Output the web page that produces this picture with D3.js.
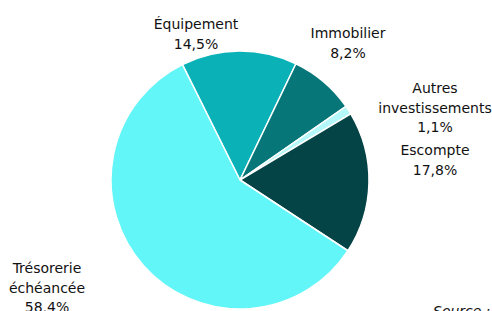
<!DOCTYPE html>
<html><head><meta charset="utf-8">
<script src="https://cdn.jsdelivr.net/npm/d3@7"></script>
<style>body{margin:0;background:#fff;}svg{display:block;}</style>
</head><body>
<svg id="c" width="492" height="311"></svg>
<script>
const categories = ["Équipement", "Immobilier", "Autres investissements", "Escompte", "Trésorerie échéancée"];
const values = [14.5, 8.2, 1.1, 17.8, 58.4];
const valueLabels = ["14,5%", "8,2%", "1,1%", "17,8%", "58,4%"];
const colors = ["#0AB2B8", "#067678", "#B5F8FA", "#054446", "#62F6F9"];
// label lines per category
const labelLines = [["Équipement"], ["Immobilier"], ["Autres", "investissements"], ["Escompte"], ["Trésorerie", "échéancée"]];
const labelPos = [[196, 29], [348, 38], [435, 93], [435, 155], [47, 273]];

const svg = d3.select("#c");
const cx = 240, cy = 180, r = 129;
const g = svg.append("g").attr("transform", `translate(${cx},${cy})`);
const start = -26.5 * Math.PI / 180;
const pie = d3.pie().sort(null).value(d => d).startAngle(start).endAngle(start + 2 * Math.PI);
const arc = d3.arc().innerRadius(0).outerRadius(r);
g.selectAll("path").data(pie(values)).join("path")
  .attr("d", arc)
  .attr("fill", (d, i) => colors[i])
  .attr("stroke", "#fff").attr("stroke-width", 1.5).attr("stroke-linejoin", "round");

const lh = 19.5;
categories.forEach((c, i) => {
  const lines = labelLines[i].concat([valueLabels[i]]);
  const t = svg.append("text")
    .attr("x", labelPos[i][0]).attr("y", labelPos[i][1])
    .attr("text-anchor", "middle")
    .attr("font-family", "DejaVu Sans, Verdana, sans-serif")
    .attr("font-size", 14).attr("fill", "#111");
  lines.forEach((l, j) => {
    t.append("tspan").attr("x", labelPos[i][0]).attr("dy", j === 0 ? 0 : lh).text(l);
  });
});

svg.append("text").attr("x", 433).attr("y", 316)
  .attr("font-family", "DejaVu Sans, Verdana, sans-serif")
  .attr("font-size", 14).attr("font-style", "italic").attr("fill", "#111")
  .text("Source : Banque de France");
</script>
</body></html>
